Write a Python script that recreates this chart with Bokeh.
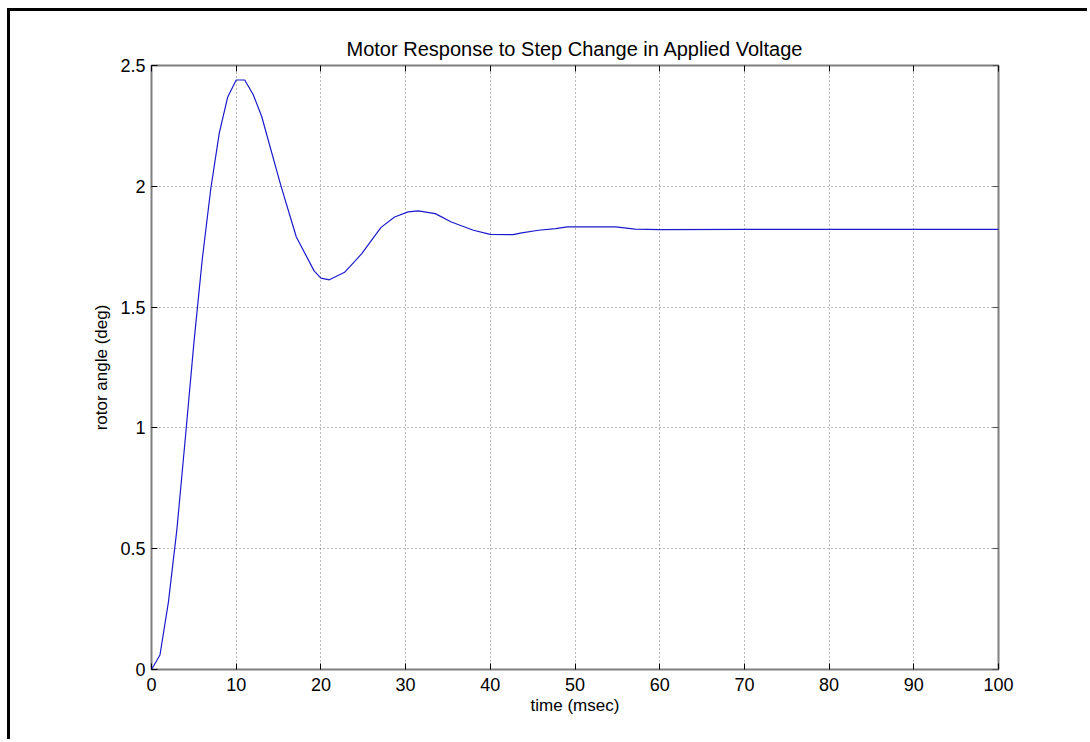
from bokeh.plotting import figure
from bokeh.models import LinearAxis, FixedTicker, Range1d
from bokeh.embed import file_html
from bokeh.resources import INLINE

# time (msec) and rotor angle (deg)
time_ms = [0, 1, 2, 3, 4, 5, 6, 7, 8, 9, 10, 11, 12, 13, 15.3, 17.1, 19.2, 20, 21,
           22.8, 24.8, 27.1, 28.7, 30.3, 31.5, 33.5, 35.4, 38, 40, 42.7, 43.7, 45.7,
           47.7, 49.1, 54.8, 57.1, 60, 70, 80, 90, 100]
angle_deg = [0, 0.06, 0.28, 0.58, 0.96, 1.35, 1.70, 1.99, 2.22, 2.37, 2.44, 2.44, 2.38,
             2.29, 2.0, 1.79, 1.65, 1.62, 1.613, 1.644, 1.72, 1.83, 1.873, 1.894, 1.898,
             1.887, 1.852, 1.818, 1.801, 1.80, 1.807, 1.818, 1.825, 1.832, 1.832, 1.823,
             1.821, 1.822, 1.822, 1.822, 1.822]

x_ticks = [0, 10, 20, 30, 40, 50, 60, 70, 80, 90, 100]
y_ticks = [0, 0.5, 1, 1.5, 2, 2.5]
y_tick_labels = ["0", "0.5", "1", "1.5", "2", "2.5"]

title_text = "Motor Response to Step Change in Applied Voltage"
x_label = "time (msec)"
y_label = "rotor angle (deg)"

FONT = "Liberation Sans"
OFF_X, OFF_Y = 10, 11          # page frame offset (7px margin + 3px rule)
W, H = 1090 - OFF_X - 3, 742 - OFF_Y - 3

p = figure(width=W, height=H, output_backend="svg", toolbar_location=None,
           x_range=Range1d(0, 100), y_range=Range1d(0, 2.5),
           min_border_left=151 - OFF_X, min_border_right=95 - 3,
           min_border_top=66 - OFF_Y - 1, min_border_bottom=75 - 3 + 1,
           x_axis_label=x_label, y_axis_label=y_label)

p.styles = {"margin-left": "7px", "margin-top": "8px",
            "border-left": "3px solid black", "border-top": "3px solid black",
            "box-sizing": "content-box"}

p.title.text = title_text
p.title.align = "center"
p.title.text_font = FONT
p.title.text_font_size = "20px"
p.title.text_font_style = "normal"
p.title.text_color = "black"
p.title.standoff = 12

p.background_fill_color = "white"
p.border_fill_color = "white"
p.outline_line_color = "#7f7f7f"
p.outline_line_width = 2

for ax in (p.xaxis[0], p.yaxis[0]):
    ax.axis_line_color = None
    ax.major_tick_in = 6
    ax.major_tick_out = 0
    ax.minor_tick_line_color = None
    ax.major_tick_line_color = "black"
    ax.major_label_text_font = FONT
    ax.major_label_text_font_size = "18px"
    ax.major_label_text_color = "black"
    ax.axis_label_text_font = FONT
    ax.axis_label_text_font_size = "17px"
    ax.axis_label_text_font_style = "normal"
    ax.axis_label_text_color = "black"

p.xaxis[0].ticker = FixedTicker(ticks=x_ticks)
p.yaxis[0].ticker = FixedTicker(ticks=y_ticks)
p.yaxis[0].major_label_overrides = {v: s for v, s in zip(y_ticks, y_tick_labels)}
p.xaxis[0].major_label_standoff = 8
p.yaxis[0].major_label_standoff = 6
p.xaxis[0].axis_label_standoff = 2
p.yaxis[0].axis_label_standoff = 6

# mirror ticks on top and right (box style), no labels
top_ax = LinearAxis(ticker=FixedTicker(ticks=x_ticks), axis_line_color=None,
                    major_tick_in=6, major_tick_out=0, minor_tick_line_color=None,
                    major_tick_line_color="black",
                    major_label_overrides={v: "" for v in x_ticks})
right_ax = LinearAxis(ticker=FixedTicker(ticks=y_ticks), axis_line_color=None,
                      major_tick_in=6, major_tick_out=0, minor_tick_line_color=None,
                      major_tick_line_color="#555555",
                      major_label_overrides={v: "" for v in y_ticks})
p.add_layout(top_ax, "above")
p.add_layout(right_ax, "right")

p.xgrid.ticker = FixedTicker(ticks=x_ticks)
p.ygrid.ticker = FixedTicker(ticks=y_ticks)
for g in (p.xgrid[0], p.ygrid[0]):
    g.grid_line_color = "black"
    g.grid_line_alpha = 0.55
    g.grid_line_dash = "1 3"
    g.grid_line_width = 1

p.line(time_ms, angle_deg, line_color="#1a1acc", line_width=1.2)

open("out.html", "w").write(file_html(p, INLINE))
